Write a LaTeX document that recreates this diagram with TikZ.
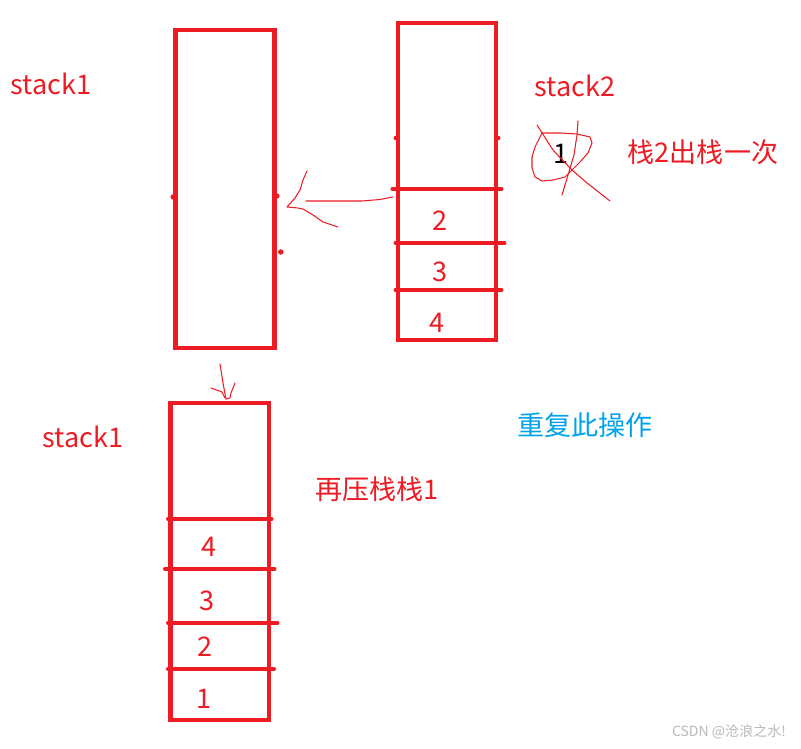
\documentclass[tikz,border=0pt]{standalone}
\usepackage{fontspec}
\setmainfont{Noto Sans CJK SC}
\definecolor{paintred}{RGB}{237,28,36}
\definecolor{paintblue}{RGB}{0,162,232}
\definecolor{markgray}{RGB}{185,185,185}
\tikzset{
  stkbox/.style={rectangle, draw=paintred, line width=2.6pt, inner sep=0pt,
                 minimum width=1.97cm, minimum height=6.34cm},
  stkcell/.style={draw=paintred, line width=2.6pt, line cap=round},
  stktext/.style={text=paintred, inner sep=0pt, font=\fontsize{15.4}{18}\selectfont},
  stknum/.style={stktext},
  stknote/.style={stktext, text=paintblue},
  stkpen/.style={draw=paintred, line width=0.6pt, line join=round, line cap=round},
}
\begin{document}
\begin{tikzpicture}[x=0.02cm, y=-0.02cm]
  \useasboundingbox (0,0) rectangle (801,749);
  % the three stacks
  \node[stkbox, minimum width=1.98cm, minimum height=6.36cm] (s1a) at (225,189) {};
  \node[stkbox, minimum width=1.96cm] (s2) at (447,181.5) {};
  \node[stkbox] (s1b) at (219.75,561.5) {};
  % cells of stack2
  \draw[stkcell] ([xshift=-0.06cm]s2.west |- 0,189) -- ([xshift=0.06cm]s2.east |- 0,189);
  \draw[stkcell] (s2.west |- 0,243) -- ([xshift=0.12cm]s2.east |- 0,243);
  \draw[stkcell] (s2.west |- 0,290) -- ([xshift=0.06cm]s2.east |- 0,290);
  \node[stknum] (n2) at (440,221) {2};
  \node[stknum] (n3) at (440,272) {3};
  \node[stknum] (n4) at (437,323) {4};
  % cells of stack1 below
  \draw[stkcell] (s1b.west |- 0,519) -- (s1b.east |- 0,519);
  \draw[stkcell] ([xshift=-0.06cm]s1b.west |- 0,569) -- ([xshift=0.06cm]s1b.east |- 0,569);
  \draw[stkcell] (s1b.west |- 0,623) -- ([xshift=0.12cm]s1b.east |- 0,623);
  \draw[stkcell] (s1b.west |- 0,669) -- ([xshift=0.05cm]s1b.east |- 0,669);
  \node[stknum] (m4) at (209,547) {4};
  \node[stknum] (m3) at (207,601) {3};
  \node[stknum] (m2) at (205,647) {2};
  \node[stknum] (m1) at (204,699) {1};
  % small pen marks on the walls
  \fill[paintred] (s1a.west |- 0,197) circle (0.055cm);
  \fill[paintred] (s1a.east |- 0,196) circle (0.055cm);
  \fill[paintred] ([xshift=0.08cm]s1a.east |- 0,252) circle (0.055cm);
  \fill[paintred] (s2.west |- 0,138) circle (0.045cm);
  \fill[paintred] (s2.east |- 0,138) circle (0.045cm);
  % labels
  \node[stktext] (l1a) at (51,84) {stack1};
  \node[stktext] (l2) at (575,86) {stack2};
  \node[stktext] (l1b) at (83,437) {stack1};
  \node[stktext] (pop) at (703,152) {栈2出栈一次};
  \node[stktext] (push) at (377,489) {再压栈栈1};
  \node[stknote] (again) at (585,425) {重复此操作};
  \node[stktext, text=black] (top) at (561,154) {1};
  \node[inner sep=0pt, text=markgray, font=\fontsize{8}{9}\selectfont] (wm) at (729,732) {CSDN @沧浪之水!};
  % crossed out element
  \draw[stkpen] (542,133) -- (560,133) -- (577,134) -- (590,137) -- (592,143)
    -- (588,153) -- (580,162) -- (572,170) -- (565,177) -- (553,180) -- (542,181)
    -- (535,177) -- (532,168) -- (532,157) -- (535,147) -- cycle;
  \draw[stkpen] (537,125) -- (553,150) -- (572,170) -- (587,183) -- (610,201);
  \draw[stkpen] (578,121) -- (577,135) -- (574,155) -- (568,175) -- (562,195);
  % hand drawn arrow stack2 -> stack1
  \coordinate (from2) at ([xshift=-0.06cm]s2.west |- 0,197);
  \coordinate (tip1) at (287,207);
  \draw[stkpen] (from2) -- (380,199.5) -- (362,201) -- (306,201);
  \draw[stkpen] (307,171) -- (303,180) -- (300,190) -- (295,198) -- (tip1)
    -- (298,208) -- (303,209) -- (313,215) -- (323,222) -- (338,227);
  % hand drawn arrow down to the new stack1
  \coordinate (tip2) at (226,399);
  \draw[stkpen] (220,364) -- (223,383) -- (tip2);
  \draw[stkpen] (211,388) -- (222,392) -- (225,398);
  \draw[stkpen] (235,383) -- (231,393) -- (230,398) -- (tip2);
\end{tikzpicture}
\end{document}
